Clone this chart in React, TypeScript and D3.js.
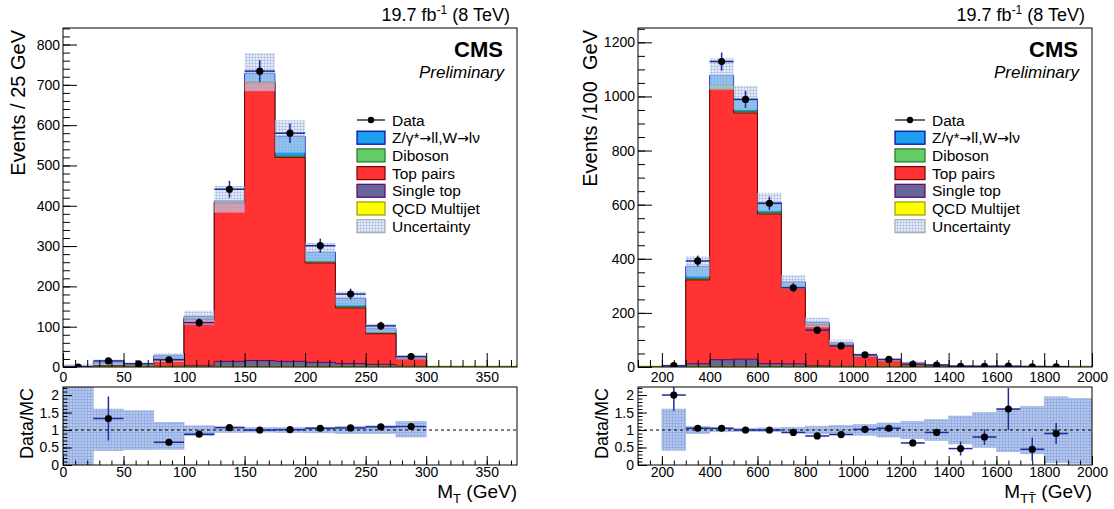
import { useEffect, useRef } from "react";
import * as d3 from "d3";

// ---------- M_T panel, 25 GeV bins ----------
const mtEdges = [0, 25, 50, 75, 100, 125, 150, 175, 200, 225, 250, 275, 300];
const mtQCD = [0.5, 1, 0.5, 1, 1, 1, 1, 1, 0.5, 0.5, 0.5, 0.2];
const mtSingleTop = [0.3, 0.8, 0.5, 1, 3, 13, 15, 13, 11, 8, 6, 2];
const mtTopPairs = [0.5, 1.5, 2, 18, 114, 393, 689, 506, 246.5, 138, 76, 18];
const mtDiboson = [0.2, 0.5, 0.5, 1, 2, 2, 3, 3, 3, 3, 2, 0.5];
const mtZW = [1, 8, 4.5, 7, 5, 3, 20, 49, 24, 20.5, 10.5, 2.3];
const mtData = [0, 15, 8, 18, 110, 441, 734, 580, 301, 181, 102, 26];
const mtRatio = [null, 1.33, null, 0.65, 0.88, 1.07, 1.0, 1.01, 1.05, 1.06, 1.09, 1.1];
const mtRatioErr = [0, 0.63, 0, 0.04, 0.03, 0.03, 0.02, 0.02, 0.03, 0.04, 0.05, 0.08];
const mtUncLo = [0, 0.41, 0.44, 0.45, 0.84, 0.93, 0.94, 0.93, 0.92, 0.9, 0.9, 0.8];
const mtUncHi = [3, 1.6, 1.55, 1.22, 1.12, 1.09, 1.07, 1.07, 1.08, 1.1, 1.12, 1.25];

// ---------- M_TT panel, 100 GeV bins ----------
const mttEdges = [200, 300, 400, 500, 600, 700, 800, 900, 1000, 1100, 1200, 1300, 1400, 1500, 1600, 1700, 1800, 1900, 2000];
const mttQCD = [0.2, 1, 1, 1, 0.5, 0.5, 0.3, 0.2, 0.1, 0, 0, 0, 0, 0, 0, 0, 0, 0];
const mttSingleTop = [0.5, 11, 26, 28, 12, 11, 5, 3, 1.5, 1, 0.6, 0.4, 0.2, 0.1, 0.1, 0.05, 0.05, 0.03];
const mttTopPairs = [1, 310, 1000, 910, 553, 282, 150, 80, 39, 24, 14, 6.5, 3.8, 2.2, 1.6, 1.9, 1, 0.7];
const mttDiboson = [0.3, 4, 13, 6, 5, 4, 2, 1.5, 1, 0.5, 0.4, 0.3, 0.1, 0.1, 0.1, 0.1, 0.05, 0.05];
const mttZW = [0.5, 46, 38, 45, 37, 17, 7, 5, 2.5, 1.5, 1, 0.5, 0.2, 0.1, 0.1, 0.15, 0.05, 0.02];
const mttData = [5, 392, 1129, 989, 605, 293, 136, 78, 45, 28, 10, 7, 2, 2, 3, 1, 1, null];
const mttRatio = [2.0, 1.05, 1.05, 1.0, 1.0, 0.93, 0.83, 0.87, 1.02, 1.05, 0.63, 0.93, 0.47, 0.8, 1.6, 0.45, 0.9, null];
const mttRatioErr = [0.45, 0.05, 0.04, 0.04, 0.04, 0.05, 0.05, 0.06, 0.04, 0.05, 0.07, 0.06, 0.2, 0.22, 0.6, 0.33, 0.3, 0];
const mttUncLo = [0.42, 0.9, 0.95, 0.96, 0.95, 0.92, 0.89, 0.87, 0.85, 0.8, 0.75, 0.7, 0.6, 0.5, 0.38, 0.32, 0.07, 0.05];
const mttUncHi = [1.6, 1.1, 1.06, 1.05, 1.06, 1.08, 1.11, 1.13, 1.16, 1.2, 1.25, 1.3, 1.4, 1.5, 1.6, 1.68, 1.95, 1.9];

// legend labels; "→" pieces get a wider arrow glyph
const legendLabels = ["Data", "Z/γ*→ll,W→lν", "Diboson", "Top pairs", "Single top", "QCD Multijet", "Uncertainty"];

// stack order, bottom -> top: QCD, single top, top pairs, diboson, Z/W
const FILLS = ["#ffff00", "#666699", "#ff3333", "#66cc66", "#1e9ff2"];
const LINES = ["#999900", "#660066", "#7a0000", "#1f7a1f", "#0000aa"];
const ERR = "#1f2a9e";
const FONT = "'Liberation Sans', Arial, Helvetica, sans-serif";

const TOP_Y0 = 28, TOP_Y1 = 367, RAT_Y0 = 387, RAT_Y1 = 465, R_MAX = 2.23;

function drawPanel(root, p, id) {
  const g = root.append("g");
  const x = d3.scaleLinear().domain(p.xDomain).range([p.x0, p.x1]);
  const y = d3.scaleLinear().domain([0, p.yMax]).range([TOP_Y1, TOP_Y0]);
  const yr = d3.scaleLinear().domain([0, R_MAX]).range([RAT_Y1, RAT_Y0]);
  const n = p.edges.length - 1;
  const idx = d3.range(n);
  const ctr = (i) => (p.edges[i] + p.edges[i + 1]) / 2;

  const defs = g.append("defs");
  defs.append("clipPath").attr("id", `ct${id}`).append("rect")
    .attr("x", p.x0).attr("y", TOP_Y0).attr("width", p.x1 - p.x0).attr("height", TOP_Y1 - TOP_Y0);
  defs.append("clipPath").attr("id", `cr${id}`).append("rect")
    .attr("x", p.x0).attr("y", RAT_Y0).attr("width", p.x1 - p.x0).attr("height", RAT_Y1 - RAT_Y0);

  // stacked histograms
  const cum = [];
  let run = idx.map(() => 0);
  p.comps.forEach((c) => {
    run = run.map((v, i) => v + c[i]);
    cum.push(run);
  });
  const total = cum[cum.length - 1];

  const top = g.append("g").attr("clip-path", `url(#ct${id})`);
  const area = d3.area().curve(d3.curveStepAfter)
    .x((d) => x(d[0])).y0(y(0)).y1((d) => y(d[1]));
  const pts = (vals) => [...vals.map((v, i) => [p.edges[i], v]), [p.edges[n], vals[n - 1]]];
  for (let k = cum.length - 1; k >= 0; k--) {
    top.append("path").attr("d", area(pts(cum[k])))
      .attr("fill", FILLS[k]).attr("stroke", LINES[k]).attr("stroke-width", 1);
  }
  top.append("line").attr("x1", p.x0).attr("x2", p.x1).attr("y1", y(0) - 0.5).attr("y2", y(0) - 0.5)
    .attr("stroke", "#999900").attr("stroke-width", 1.5);

  // MC uncertainty
  top.selectAll(".unc").data(idx).join("rect")
    .attr("x", (i) => x(p.edges[i])).attr("width", (i) => x(p.edges[i + 1]) - x(p.edges[i]))
    .attr("y", (i) => y(total[i] * p.uncHi[i]))
    .attr("height", (i) => y(total[i] * p.uncLo[i]) - y(total[i] * p.uncHi[i]))
    .attr("fill", "url(#hatchTop)");

  // data points
  const dIdx = idx.filter((i) => p.data[i] !== null);
  const dg = top.append("g");
  dg.selectAll(".h").data(dIdx).join("line")
    .attr("x1", (i) => x(p.edges[i])).attr("x2", (i) => x(p.edges[i + 1]))
    .attr("y1", (i) => y(p.data[i])).attr("y2", (i) => y(p.data[i]))
    .attr("stroke", ERR).attr("stroke-width", 1.5);
  dg.selectAll(".v").data(dIdx).join("line")
    .attr("x1", (i) => x(ctr(i))).attr("x2", (i) => x(ctr(i)))
    .attr("y1", (i) => y(p.data[i] + Math.sqrt(p.data[i])))
    .attr("y2", (i) => y(Math.max(0, p.data[i] - Math.sqrt(p.data[i]))))
    .attr("stroke", ERR).attr("stroke-width", 1.5);
  dg.selectAll("circle").data(dIdx).join("circle")
    .attr("cx", (i) => x(ctr(i))).attr("cy", (i) => y(p.data[i])).attr("r", 3.6).attr("fill", "#000");

  // ratio panel
  const rat = g.append("g").attr("clip-path", `url(#cr${id})`);
  rat.selectAll("rect").data(idx).join("rect")
    .attr("x", (i) => x(p.edges[i])).attr("width", (i) => x(p.edges[i + 1]) - x(p.edges[i]))
    .attr("y", (i) => yr(p.uncHi[i])).attr("height", (i) => yr(p.uncLo[i]) - yr(p.uncHi[i]))
    .attr("fill", "url(#hatchRat)").attr("stroke", "#9db3e0").attr("stroke-width", 0.6);
  rat.append("line").attr("x1", p.x0).attr("x2", p.x1).attr("y1", yr(1)).attr("y2", yr(1))
    .attr("stroke", "#000").attr("stroke-dasharray", "3,3").attr("stroke-width", 1);
  const rIdx = idx.filter((i) => p.ratio[i] !== null);
  rat.selectAll(".rh").data(rIdx).join("line")
    .attr("x1", (i) => x(p.edges[i])).attr("x2", (i) => x(p.edges[i + 1]))
    .attr("y1", (i) => yr(p.ratio[i])).attr("y2", (i) => yr(p.ratio[i]))
    .attr("stroke", ERR).attr("stroke-width", 1.5);
  rat.selectAll(".rv").data(rIdx).join("line")
    .attr("x1", (i) => x(ctr(i))).attr("x2", (i) => x(ctr(i)))
    .attr("y1", (i) => yr(p.ratio[i] + p.ratioErr[i])).attr("y2", (i) => yr(p.ratio[i] - p.ratioErr[i]))
    .attr("stroke", ERR).attr("stroke-width", 1.5);
  rat.selectAll("circle").data(rIdx).join("circle")
    .attr("cx", (i) => x(ctr(i))).attr("cy", (i) => yr(p.ratio[i])).attr("r", 3.6).attr("fill", "#000");

  // axes
  const styleAxis = (s, size) => {
    s.select(".domain").remove();
    s.attr("font-family", FONT).attr("font-size", size);
    s.selectAll("text").attr("fill", "#000");
  };
  const fmt = (d) => String(d);
  g.append("g").attr("transform", `translate(${p.x0},0)`)
    .call(d3.axisLeft(y).tickValues(p.yMajor).tickSize(-14).tickPadding(3).tickFormat(fmt))
    .call((s) => styleAxis(s, 14));
  g.append("g").attr("transform", `translate(${p.x0},0)`)
    .call(d3.axisLeft(y).tickValues(p.yMinor).tickSize(-7).tickFormat(() => ""))
    .call((s) => styleAxis(s, 14));
  g.append("g").attr("transform", `translate(0,${TOP_Y1})`)
    .call(d3.axisBottom(x).tickValues(p.xMajor).tickSize(-14).tickPadding(5).tickFormat(fmt))
    .call((s) => styleAxis(s, 14));
  g.append("g").attr("transform", `translate(0,${TOP_Y1})`)
    .call(d3.axisBottom(x).tickValues(p.xMinor).tickSize(-7).tickFormat(() => ""))
    .call((s) => styleAxis(s, 14));

  g.append("g").attr("transform", `translate(${p.x0},0)`)
    .call(d3.axisLeft(yr).tickValues([0, 0.5, 1, 1.5, 2]).tickSize(-9).tickPadding(4).tickFormat(fmt))
    .call((s) => styleAxis(s, 14));
  g.append("g").attr("transform", `translate(${p.x0},0)`)
    .call(d3.axisLeft(yr).tickValues(d3.range(0, 2.21, 0.1)).tickSize(-4.5).tickFormat(() => ""))
    .call((s) => styleAxis(s, 14));
  g.append("g").attr("transform", `translate(0,${RAT_Y1})`)
    .call(d3.axisBottom(x).tickValues(p.xMajor).tickSize(-9).tickPadding(2).tickFormat(fmt))
    .call((s) => styleAxis(s, 14));
  g.append("g").attr("transform", `translate(0,${RAT_Y1})`)
    .call(d3.axisBottom(x).tickValues(p.xMinor).tickSize(-4.5).tickFormat(() => ""))
    .call((s) => styleAxis(s, 14));

  // frames
  [[TOP_Y0, TOP_Y1], [RAT_Y0, RAT_Y1]].forEach(([a, b]) => {
    g.append("rect").attr("x", p.x0).attr("y", a).attr("width", p.x1 - p.x0).attr("height", b - a)
      .attr("fill", "none").attr("stroke", "#000").attr("stroke-width", 1);
  });

  // titles
  const txt = (xx, yy, size) => g.append("text").attr("x", xx).attr("y", yy)
    .attr("font-family", FONT).attr("font-size", size).attr("fill", "#000");
  const t = txt(p.x1 - 7, 21, 18).attr("text-anchor", "end");
  t.append("tspan").text("19.7 fb");
  t.append("tspan").attr("font-size", 12).attr("dy", -7).text("-1");
  t.append("tspan").attr("dy", 7).text(" (8 TeV)");

  txt(0, 0, 20).attr("text-anchor", "end").style("white-space", "pre")
    .attr("transform", `translate(${p.x0 - p.yTitleOff},30) rotate(-90)`).text(p.yTitle);
  txt(0, 0, 18).attr("text-anchor", "end")
    .attr("transform", `translate(${p.x0 - 30},388) rotate(-90)`).text("Data/MC");

  const xt = txt(p.x1, 498, 19).attr("text-anchor", "end");
  xt.append("tspan").text("M");
  xt.append("tspan").attr("font-size", 13).attr("dy", 5).text(p.xSub);
  xt.append("tspan").attr("dy", -5).text(" (GeV)");

  txt(p.x1 - 14, 57, 22).attr("text-anchor", "end").attr("font-weight", "bold").text("CMS");
  txt(p.x1 - 13, 78, 17).attr("text-anchor", "end").attr("font-style", "italic").text("Preliminary");

  // legend
  const lg = g.append("g");
  legendLabels.forEach((lab, i) => {
    const cy = 120 + i * 17.7;
    const bx = p.legendX, bw = p.legendW;
    if (i === 0) {
      lg.append("line").attr("x1", bx).attr("x2", bx + bw).attr("y1", cy).attr("y2", cy)
        .attr("stroke", "#000").attr("stroke-width", 1.2);
      lg.append("circle").attr("cx", bx + bw / 2).attr("cy", cy).attr("r", 3.2).attr("fill", "#000");
    } else if (i === 6) {
      lg.append("rect").attr("x", bx).attr("y", cy - 6.5).attr("width", bw).attr("height", 13)
        .attr("fill", "url(#hatchTop)").attr("stroke", "#aaaaaa").attr("stroke-width", 1.2);
    } else {
      const k = 5 - i;
      lg.append("rect").attr("x", bx).attr("y", cy - 6.5).attr("width", bw).attr("height", 13)
        .attr("fill", FILLS[k]).attr("stroke", LINES[k]).attr("stroke-width", 1.2);
    }
    const tx = lg.append("text").attr("x", bx + bw + 7).attr("y", cy + 5.5)
      .attr("font-family", FONT).attr("font-size", 15.5).attr("fill", "#000");
    lab.split(/(→)/).filter((s) => s.length).forEach((part) => {
      const sp = tx.append("tspan").text(part);
      if (part === "→") sp.attr("font-family", "'DejaVu Sans', sans-serif").attr("font-size", 14);
    });
  });
}

export default function App() {
  const svgRef = useRef(null);

  useEffect(() => {
    const svg = d3.select(svgRef.current);
    svg.selectAll("*").remove();

    const defs = svg.append("defs");
    const pt = defs.append("pattern").attr("id", "hatchTop").attr("width", 3).attr("height", 3)
      .attr("patternUnits", "userSpaceOnUse");
    pt.append("rect").attr("width", 3).attr("height", 3).attr("fill", "#d5dff2").attr("fill-opacity", 0.6);
    pt.append("path").attr("d", "M0 0.5H3M0.5 0V3").attr("stroke", "#8ea5d6")
      .attr("stroke-width", 0.6).attr("stroke-opacity", 0.7);
    const pr = defs.append("pattern").attr("id", "hatchRat").attr("width", 3).attr("height", 3)
      .attr("patternUnits", "userSpaceOnUse");
    pr.append("rect").attr("width", 3).attr("height", 3).attr("fill", "#b4c8ee");
    pr.append("path").attr("d", "M0 0.5H3M0.5 0V3").attr("stroke", "#8ca6dc").attr("stroke-width", 0.7);

    drawPanel(svg, {
      x0: 63, x1: 517, xDomain: [0, 375],
      edges: mtEdges, comps: [mtQCD, mtSingleTop, mtTopPairs, mtDiboson, mtZW],
      data: mtData, ratio: mtRatio, ratioErr: mtRatioErr, uncLo: mtUncLo, uncHi: mtUncHi,
      yMax: 841, yMajor: d3.range(0, 801, 100), yMinor: d3.range(0, 841, 20),
      xMajor: d3.range(0, 351, 50), xMinor: d3.range(0, 375, 10),
      yTitle: "Events / 25 GeV", yTitleOff: 38, xSub: "T",
      legendX: 357, legendW: 28,
    }, "a");

    drawPanel(svg, {
      x0: 638, x1: 1092, xDomain: [100, 2000],
      edges: mttEdges, comps: [mttQCD, mttSingleTop, mttTopPairs, mttDiboson, mttZW],
      data: mttData, ratio: mttRatio, ratioErr: mttRatioErr, uncLo: mttUncLo, uncHi: mttUncHi,
      yMax: 1253, yMajor: d3.range(0, 1201, 200), yMinor: d3.range(0, 1251, 50),
      xMajor: d3.range(200, 2001, 200), xMinor: d3.range(100, 2001, 50),
      yTitle: "Events /100  GeV", yTitleOff: 41, xSub: "TT\u0304",
      legendX: 895, legendW: 30,
    }, "b");
  }, []);

  return (
    <svg
      ref={svgRef}
      width={1114}
      height={509}
      style={{ position: "absolute", left: 0, top: 0, background: "#fff" }}
    />
  );
}
